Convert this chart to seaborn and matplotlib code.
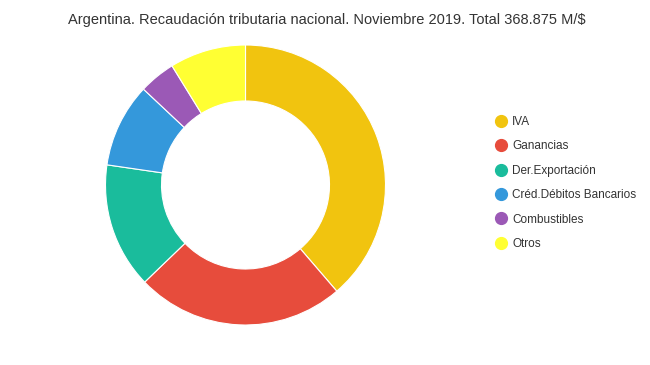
import matplotlib
matplotlib.use("Agg")
import matplotlib.pyplot as plt
from matplotlib.lines import Line2D
import seaborn as sns

# datos (M$)
categorias = ["IVA", "Ganancias", "Der.Exportación", "Créd.Débitos Bancarios", "Combustibles", "Otros"]
valores = [142750, 88900, 53500, 35780, 15490, 32455]
colores = ["#f1c40f", "#e74c3c", "#1abc9c", "#3498db", "#9b59b6", "#ffff33"]
titulo = "Argentina. Recaudación tributaria nacional. Noviembre 2019. Total 368.875 M/$"

sns.set_theme(style="white")
plt.rcParams["font.family"] = ["Liberation Sans", "DejaVu Sans"]

fig = plt.figure(figsize=(6.5, 3.65), dpi=100)
W, H = 650, 365
cx, cy, r = 245.5, 185, 140
ax = fig.add_axes([(cx - r) / W, (H - cy - r) / H, 2 * r / W, 2 * r / H])

pal = sns.color_palette(colores)
ax.pie(valores, colors=pal, startangle=90, counterclock=False, radius=1,
       wedgeprops=dict(width=0.4, edgecolor="white", linewidth=0.8))
ax.set_xlim(-1, 1)
ax.set_ylim(-1, 1)
ax.set_aspect("equal")
ax.axis("off")

fig.text(327 / W, 1 - 20 / H, titulo, ha="center", va="center", fontsize=10.5, color="#333333")

handles = [Line2D([0], [0], marker="o", linestyle="", markersize=8.5,
                  markerfacecolor=c, markeredgecolor=c) for c in pal]
fig.legend(handles, categorias, loc="upper left", bbox_to_anchor=(495 / W, 1 - 116 / H),
           frameon=False, fontsize=8.5, labelspacing=1.05, handletextpad=0.45,
           handlelength=1.0, labelcolor="#333333", borderaxespad=0, borderpad=0)

fig.savefig("out.png", dpi=100)
